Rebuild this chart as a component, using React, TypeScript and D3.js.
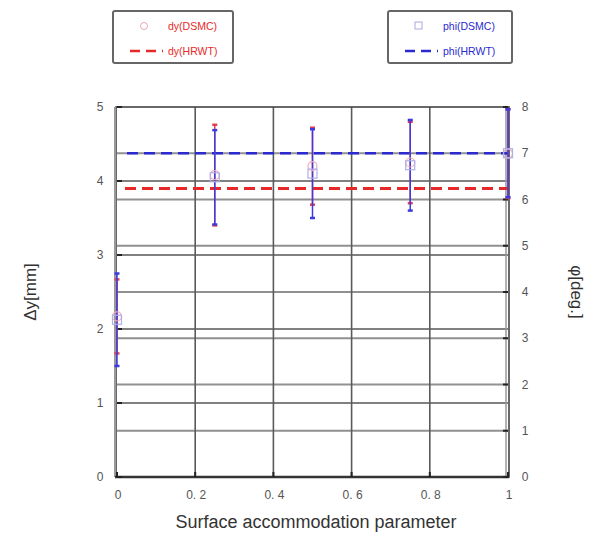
import { useEffect, useRef } from "react";
import * as d3 from "d3";

// surface accommodation parameter
const alphas = [0, 0.25, 0.5, 0.75, 1];
// dy (DSMC) mean and half error, mm
const dyDsmc = [2.17, 4.08, 4.2, 4.25, 4.37];
const dyErr = [0.5, 0.68, 0.52, 0.55, 0.6];
// phi (DSMC) mean and half error, deg
const phiDsmc = [3.4, 6.48, 6.56, 6.74, 7.0];
const phiErr = [1.0, 1.02, 0.96, 0.98, 0.95];
// wind tunnel reference values
const dyHrwt = 3.9;
const phiHrwt = 7.0;

const xTicks = [0, 0.2, 0.4, 0.6, 0.8, 1];
const leftTicks = [0, 1, 2, 3, 4, 5];
const rightTicks = [0, 1, 2, 3, 4, 5, 6, 7, 8];

const W = 603;
const H = 542;
const RED = "#e82828";
const BLUE = "#2a2ad0";
const FONT = "'Liberation Sans', Arial, sans-serif";

export default function App() {
  const ref = useRef<SVGSVGElement>(null);

  useEffect(() => {
    const svg = d3.select(ref.current);
    svg.selectAll("*").remove();

    const m = { left: 117, right: 508, top: 107, bottom: 477 };
    const x = d3.scaleLinear().domain([0, 1]).range([m.left, m.right]);
    const yL = d3.scaleLinear().domain([0, 5]).range([m.bottom, m.top]);
    const yR = d3.scaleLinear().domain([0, 8]).range([m.bottom, m.top]);

    svg.append("rect").attr("width", W).attr("height", H).attr("fill", "#fff");

    // grid
    const grid = svg.append("g");
    grid
      .selectAll(".gl")
      .data(leftTicks.slice(1, -1))
      .join("line")
      .attr("x1", m.left)
      .attr("x2", m.right)
      .attr("y1", (d) => yL(d))
      .attr("y2", (d) => yL(d))
      .attr("stroke", "#808080")
      .attr("stroke-width", 1.8);
    grid
      .selectAll(".gr")
      .data(rightTicks.slice(1, -1))
      .join("line")
      .attr("x1", m.left)
      .attr("x2", m.right)
      .attr("y1", (d) => yR(d))
      .attr("y2", (d) => yR(d))
      .attr("stroke", "#909090")
      .attr("stroke-width", 1.8);
    grid
      .selectAll(".gx")
      .data(xTicks.slice(1, -1))
      .join("line")
      .attr("x1", (d) => x(d))
      .attr("x2", (d) => x(d))
      .attr("y1", m.top)
      .attr("y2", m.bottom)
      .attr("stroke", "#5a5a5a")
      .attr("stroke-width", 1.6);

    // frame
    svg
      .append("rect")
      .attr("x", m.left - 1)
      .attr("y", m.top)
      .attr("width", m.right - m.left + 2)
      .attr("height", m.bottom - m.top)
      .attr("fill", "none")
      .attr("stroke", "#444")
      .attr("stroke-width", 1.6);
    svg
      .append("line")
      .attr("x1", m.left - 2)
      .attr("x2", m.left - 2)
      .attr("y1", m.top)
      .attr("y2", m.bottom)
      .attr("stroke", "#999")
      .attr("stroke-width", 2);
    svg
      .append("line")
      .attr("x1", m.right - 2)
      .attr("x2", m.right - 2)
      .attr("y1", m.top)
      .attr("y2", m.bottom)
      .attr("stroke", "#999")
      .attr("stroke-width", 1.5);
    svg
      .append("line")
      .attr("x1", m.left - 2)
      .attr("x2", m.right + 1)
      .attr("y1", m.bottom)
      .attr("y2", m.bottom)
      .attr("stroke", "#333")
      .attr("stroke-width", 2.5);

    // ticks
    svg
      .append("g")
      .selectAll("line")
      .data(leftTicks)
      .join("line")
      .attr("x1", m.left)
      .attr("x2", m.left + 5)
      .attr("y1", (d) => yL(d))
      .attr("y2", (d) => yL(d))
      .attr("stroke", "#222")
      .attr("stroke-width", 2);
    svg
      .append("g")
      .selectAll("line")
      .data(rightTicks)
      .join("line")
      .attr("x1", m.right - 5)
      .attr("x2", m.right)
      .attr("y1", (d) => yR(d))
      .attr("y2", (d) => yR(d))
      .attr("stroke", "#222")
      .attr("stroke-width", 2);
    svg
      .append("g")
      .selectAll("line")
      .data(xTicks)
      .join("line")
      .attr("x1", (d) => x(d))
      .attr("x2", (d) => x(d))
      .attr("y1", m.bottom)
      .attr("y2", m.bottom - 5)
      .attr("stroke", "#222")
      .attr("stroke-width", 2);

    // tick labels
    const lab = svg
      .append("g")
      .attr("font-family", FONT)
      .attr("font-size", 12)
      .attr("fill", "#555");
    lab
      .selectAll(".tl")
      .data(leftTicks)
      .join("text")
      .attr("x", 100)
      .attr("y", (d) => yL(d) + 4)
      .attr("text-anchor", "middle")
      .text((d) => d);
    lab
      .selectAll(".tr")
      .data(rightTicks)
      .join("text")
      .attr("x", 525)
      .attr("y", (d) => yR(d) + 4)
      .attr("text-anchor", "middle")
      .text((d) => d);
    lab
      .selectAll(".tx")
      .data(xTicks)
      .join("text")
      .attr("x", (d) => x(d) + 1)
      .attr("y", 499)
      .attr("text-anchor", "middle")
      .text((d) => (d === 0 || d === 1 ? d : d3.format(".1f")(d).replace(".", ". ")));

    // axis titles
    svg
      .append("text")
      .attr("x", 316)
      .attr("y", 528)
      .attr("text-anchor", "middle")
      .attr("font-family", FONT)
      .attr("font-size", 18)
      .attr("fill", "#333")
      .text("Surface accommodation parameter");
    svg
      .append("text")
      .attr("transform", "translate(36,292) rotate(-90)")
      .attr("text-anchor", "middle")
      .attr("font-family", FONT)
      .attr("font-size", 17)
      .attr("fill", "#333")
      .text("Δy[mm]");
    svg
      .append("text")
      .attr("transform", "translate(571,292) rotate(90)")
      .attr("text-anchor", "middle")
      .attr("font-family", FONT)
      .attr("font-size", 17)
      .attr("fill", "#333")
      .text("φ[deg.]");

    // HRWT reference lines
    svg
      .append("line")
      .attr("x1", x(0) + 8)
      .attr("x2", x(1))
      .attr("y1", yL(dyHrwt))
      .attr("y2", yL(dyHrwt))
      .attr("stroke", RED)
      .attr("stroke-width", 3)
      .attr("stroke-dasharray", "11,6");
    svg
      .append("line")
      .attr("x1", x(0) + 10)
      .attr("x2", x(1))
      .attr("y1", yR(phiHrwt))
      .attr("y2", yR(phiHrwt))
      .attr("stroke", BLUE)
      .attr("stroke-width", 2.5)
      .attr("stroke-dasharray", "11,6");

    // error bars
    const errBars = (
      vals: number[],
      errs: number[],
      y: d3.ScaleLinear<number, number>,
      color: string
    ) => {
      const g = svg.append("g");
      const data = alphas.map((a, i) => ({ a, v: vals[i], e: errs[i] }));
      g.selectAll("line.v")
        .data(data)
        .join("line")
        .attr("x1", (d) => x(d.a))
        .attr("x2", (d) => x(d.a))
        .attr("y1", (d) => y(d.v + d.e))
        .attr("y2", (d) => y(d.v - d.e))
        .attr("stroke", color)
        .attr("stroke-width", 1.5);
      [1, -1].forEach((s) => {
        g.append("g")
          .selectAll("line")
          .data(data)
          .join("line")
          .attr("x1", (d) => x(d.a) - 2.5)
          .attr("x2", (d) => x(d.a) + 2.5)
          .attr("y1", (d) => y(d.v + s * d.e))
          .attr("y2", (d) => y(d.v + s * d.e))
          .attr("stroke", color)
          .attr("stroke-width", 2.5);
      });
    };
    errBars(dyDsmc, dyErr, yL, "#e04050");
    errBars(phiDsmc, phiErr, yR, "#3b3be0");

    // markers
    svg
      .append("g")
      .selectAll("circle")
      .data(alphas)
      .join("circle")
      .attr("cx", (d) => x(d))
      .attr("cy", (d, i) => yL(dyDsmc[i]))
      .attr("r", 4.5)
      .attr("fill", "none")
      .attr("stroke", "#eeaab8")
      .attr("stroke-width", 1.2);
    svg
      .append("g")
      .selectAll("rect")
      .data(alphas)
      .join("rect")
      .attr("x", (d) => x(d) - 4.5)
      .attr("y", (d, i) => yR(phiDsmc[i]) - 4.5)
      .attr("width", 9)
      .attr("height", 9)
      .attr("fill", "none")
      .attr("stroke", "#b0aee8")
      .attr("stroke-width", 1.2);

    // legends
    const legend = (
      x0: number,
      w: number,
      color: string,
      mark: "circle" | "square",
      labels: string[]
    ) => {
      const g = svg.append("g").attr("transform", `translate(${x0},11)`);
      g.append("rect")
        .attr("width", w)
        .attr("height", 52)
        .attr("rx", 2)
        .attr("fill", "#fff")
        .attr("stroke", "#666")
        .attr("stroke-width", 2);
      if (mark === "circle") {
        g.append("circle")
          .attr("cx", 31)
          .attr("cy", 15)
          .attr("r", 3.5)
          .attr("fill", "none")
          .attr("stroke", "#e8a8b0")
          .attr("stroke-width", 1);
      } else {
        g.append("rect")
          .attr("x", 27)
          .attr("y", 11)
          .attr("width", 7)
          .attr("height", 7)
          .attr("fill", "none")
          .attr("stroke", "#aaaadd")
          .attr("stroke-width", 1);
      }
      g.append("line")
        .attr("x1", 17)
        .attr("x2", 50)
        .attr("y1", 40)
        .attr("y2", 40)
        .attr("stroke", color)
        .attr("stroke-width", 2.5)
        .attr("stroke-dasharray", "10,6");
      g.selectAll("text")
        .data(labels)
        .join("text")
        .attr("x", 55)
        .attr("y", (d, i) => 19 + i * 25)
        .attr("font-family", FONT)
        .attr("font-size", 10.5)
        .attr("fill", color)
        .text((d) => d);
    };
    legend(113, 120, RED, "circle", ["dy(DSMC)", "dy(HRWT)"]);
    legend(388, 124, BLUE, "square", ["phi(DSMC)", "phi(HRWT)"]);
  }, []);

  return (
    <svg
      ref={ref}
      width={W}
      height={H}
      style={{ position: "absolute", left: 0, top: 0 }}
    />
  );
}
